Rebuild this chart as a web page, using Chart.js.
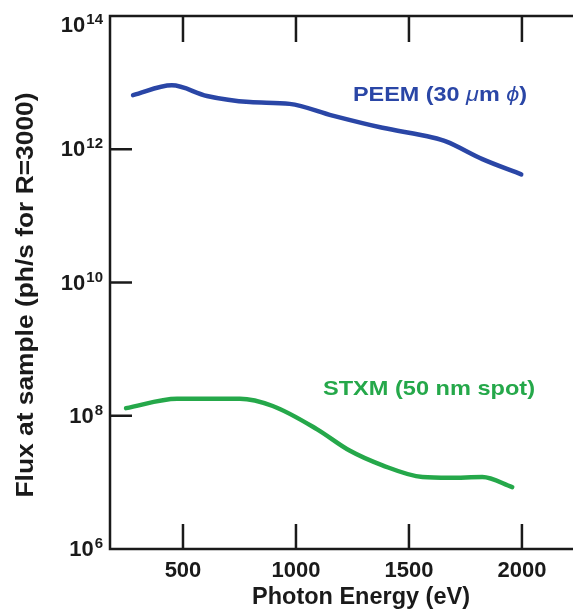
<!DOCTYPE html>
<html>
<head>
<meta charset="utf-8">
<script src="https://cdn.jsdelivr.net/npm/chart.js@4"></script>
<style>
  html, body { margin: 0; padding: 0; background: #fff; }
  #wrap { width: 573px; height: 613px; position: relative; }
</style>
</head>
<body>
<div id="wrap"><canvas id="c"></canvas></div>
<script>
// photon energy (eV) vs flux at sample
const peemEnergy = [279, 451, 606, 796, 972, 1162, 1383, 1604, 1666, 1825, 1997];
const peemFlux = [6.5e12, 9.1e12, 6.3e12, 5.1e12, 4.8e12, 3.2e12, 2.1e12, 1.5e12, 1.3e12, 7.1e11, 4.2e11];
const stxmEnergy = [248, 474, 752, 897, 1092, 1237, 1383, 1560, 1679, 1825, 1957];
const stxmFlux = [1.3e8, 1.8e8, 1.8e8, 1.4e8, 6.3e7, 3.0e7, 1.8e7, 1.2e7, 1.17e7, 1.2e7, 8.5e6];

const xTicks = [500, 1000, 1500, 2000];
const yExponents = [6, 8, 10, 12, 14];

const BLUE = '#2a46a6';
const GREEN = '#25a84a';
const INK = '#1a1a1a';
const FAMILY = "'Liberation Sans', Arial, Helvetica, sans-serif";

const toPoints = (xs, ys) => xs.map((x, i) => ({ x, y: ys[i] }));

// draw a run of differently styled text squeezed/stretched to a target width
function fitText(ctx, parts, x, y, width, align = 'left') {
  let total = 0;
  parts.forEach(p => { ctx.font = p.font; total += ctx.measureText(p.t).width; });
  const s = width / total;
  ctx.save();
  ctx.translate(align === 'center' ? x - width / 2 : x, y);
  ctx.scale(s, 1);
  ctx.textBaseline = 'middle';
  ctx.textAlign = 'left';
  let cx = 0;
  parts.forEach(p => {
    ctx.font = p.font;
    ctx.fillStyle = p.color;
    ctx.fillText(p.t, cx, 0);
    cx += ctx.measureText(p.t).width;
  });
  ctx.restore();
}

const frame = {
  id: 'frame',
  afterDraw(chart) {
    const { ctx, chartArea: a, scales: { x, y } } = chart;
    ctx.save();
    ctx.strokeStyle = INK;
    ctx.lineWidth = 2.5;
    ctx.lineCap = 'butt';
    ctx.beginPath();
    ctx.moveTo(chart.width + 2, a.top);
    ctx.lineTo(a.left, a.top);
    ctx.lineTo(a.left, a.bottom);
    ctx.lineTo(chart.width + 2, a.bottom);
    xTicks.forEach(v => {
      const px = x.getPixelForValue(v);
      ctx.moveTo(px, a.bottom); ctx.lineTo(px, a.bottom - 25);
      ctx.moveTo(px, a.top); ctx.lineTo(px, a.top + 26);
    });
    yExponents.forEach(e => {
      const py = y.getPixelForValue(Math.pow(10, e));
      ctx.moveTo(a.left, py); ctx.lineTo(a.left + 22, py);
    });
    ctx.stroke();

    // y tick labels: 10 with superscript exponent
    ctx.fillStyle = INK;
    ctx.textAlign = 'right';
    yExponents.forEach(e => {
      let py = y.getPixelForValue(Math.pow(10, e));
      if (py < a.top + 8) py = a.top + 9;
      ctx.font = `bold 15px ${FAMILY}`;
      const ew = ctx.measureText(String(e)).width;
      ctx.textBaseline = 'middle';
      ctx.fillText(String(e), 103, py - 5);
      ctx.font = `bold 22px ${FAMILY}`;
      ctx.fillText('10', 103 - ew - 1, py + 1);
    });

    // axis titles
    fitText(ctx, [{ t: 'Photon Energy (eV)', font: `bold 23px ${FAMILY}`, color: INK }], 361, 598, 218, 'center');
    ctx.save();
    ctx.translate(26, 295);
    ctx.rotate(-Math.PI / 2);
    fitText(ctx, [{ t: 'Flux at sample (ph/s for R=3000)', font: `bold 24px ${FAMILY}`, color: INK }], 0, 0, 405, 'center');
    ctx.restore();

    // series labels
    fitText(ctx, [
      { t: 'PEEM (30 ', font: `bold 20px ${FAMILY}`, color: BLUE },
      { t: 'μ', font: `italic 20px ${FAMILY}`, color: BLUE },
      { t: 'm ', font: `bold 20px ${FAMILY}`, color: BLUE },
      { t: 'ϕ', font: `italic 20px ${FAMILY}`, color: BLUE },
      { t: ')', font: `bold 20px ${FAMILY}`, color: BLUE },
    ], 353, 95, 174);
    fitText(ctx, [{ t: 'STXM (50 nm spot)', font: `bold 21px ${FAMILY}`, color: GREEN }], 323, 389, 212);
    ctx.restore();
  }
};

new Chart(document.getElementById('c'), {
  type: 'line',
  data: {
    datasets: [
      { label: 'PEEM (30 μm ϕ)', data: toPoints(peemEnergy, peemFlux), borderColor: BLUE },
      { label: 'STXM (50 nm spot)', data: toPoints(stxmEnergy, stxmFlux), borderColor: GREEN },
    ].map(ds => ({
      borderWidth: 4.5,
      pointRadius: 0,
      cubicInterpolationMode: 'monotone',
      fill: false,
      borderCapStyle: 'round',
      ...ds,
    })),
  },
  options: {
    responsive: true,
    maintainAspectRatio: false,
    animation: false,
    layout: { padding: { top: 16, right: 0, left: 0, bottom: 0 } },
    plugins: { legend: { display: false }, tooltip: { enabled: false } },
    scales: {
      x: {
        type: 'linear',
        min: 177,
        max: 2226,
        afterBuildTicks: s => { s.ticks = xTicks.map(v => ({ value: v })); },
        afterFit: s => { s.height = 64; },
        grid: { display: false, drawTicks: false },
        border: { display: false },
        ticks: {
          padding: 9,
          color: INK,
          font: { family: FAMILY, weight: 'bold', size: 22 },
          maxRotation: 0,
          callback: v => String(v),
        },
      },
      y: {
        type: 'logarithmic',
        min: 1e6,
        max: 1e14,
        afterBuildTicks: s => { s.ticks = yExponents.map(e => ({ value: Math.pow(10, e) })); },
        afterFit: s => { s.width = 110; },
        grid: { display: false, drawTicks: false },
        border: { display: false },
        ticks: { display: false },
      },
    },
  },
  plugins: [frame],
});
</script>
</body>
</html>
